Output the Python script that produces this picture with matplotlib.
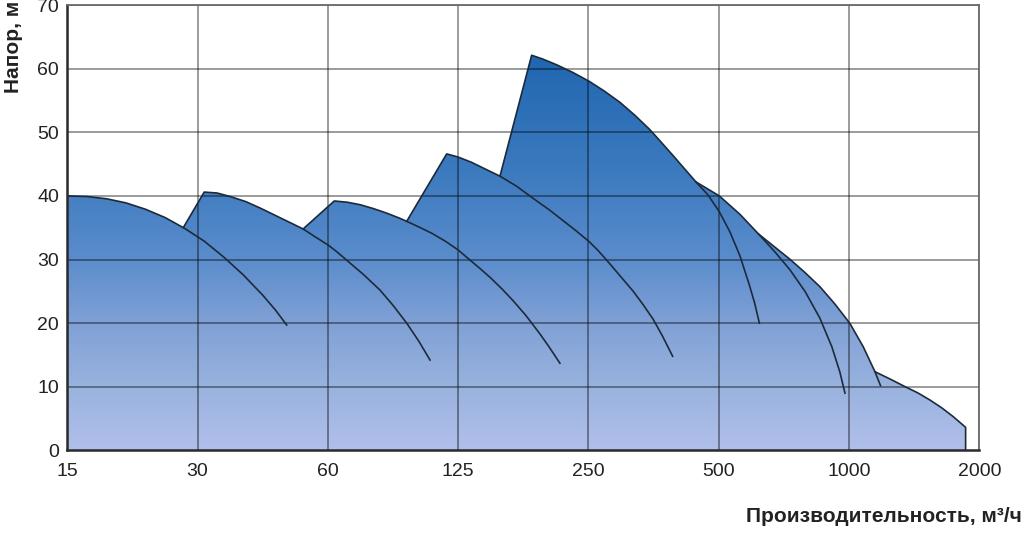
import numpy as np
import matplotlib
matplotlib.use('Agg')
import matplotlib.pyplot as plt
from matplotlib.colors import LinearSegmentedColormap
from matplotlib.patches import Polygon

plt.rcParams['font.family'] = ['Liberation Sans', 'DejaVu Sans']

# flow tick labels (equally spaced on the chart), head in m
flow_ticks = ['15', '30', '60', '125', '250', '500', '1000', '2000']
head_ticks = [0, 10, 20, 30, 40, 50, 60, 70]

# pump curves: x in tick-division units (0 = 15 m3/h ... 7 = 2000 m3/h), head in m
# first point of a curve is the foot of its left edge (or the branch point)
pump1_x = [0.0, 0.15, 0.3, 0.45, 0.6, 0.75, 0.9, 1.05, 1.2, 1.35, 1.5, 1.6, 1.684]
pump1_h = [40.0, 39.9, 39.55, 38.9, 37.9, 36.6, 34.9, 32.9, 30.4, 27.6, 24.4, 22.0, 19.7]

pump2_x = [0.89, 1.051, 1.15, 1.25, 1.37, 1.479, 1.65, 1.73, 1.81, 1.9, 2.0, 2.07,
           2.144, 2.27, 2.40, 2.5, 2.605, 2.7, 2.784]
pump2_h = [35.0, 40.6, 40.45, 39.9, 39.1, 38.1, 36.4, 35.6, 34.8, 33.6, 32.3, 31.2,
           29.9, 27.7, 25.2, 22.8, 20.0, 17.1, 14.2]

pump3_x = [1.81, 2.049, 2.15, 2.25, 2.35, 2.45, 2.55, 2.605, 2.7, 2.8, 2.9, 3.0, 3.08,
           3.167, 3.25, 3.34, 3.423, 3.52, 3.628, 3.7, 3.781]
pump3_h = [34.8, 39.2, 39.0, 38.6, 38.0, 37.3, 36.5, 36.0, 35.1, 34.1, 32.9, 31.5, 30.1,
           28.6, 27.1, 25.3, 23.5, 21.2, 18.3, 16.2, 13.7]

pump4_x = [2.605, 2.912, 3.0, 3.1, 3.2, 3.321, 3.45, 3.576, 3.7, 3.8, 3.9, 4.006, 4.07,
           4.14, 4.24, 4.344, 4.42, 4.497, 4.57, 4.646]
pump4_h = [36.0, 46.6, 46.1, 45.3, 44.3, 43.1, 41.5, 39.6, 37.8, 36.2, 34.6, 32.8, 31.5,
           29.9, 27.5, 25.0, 22.9, 20.6, 17.9, 14.8]

pump5_x = [3.321, 3.564, 3.65, 3.756, 3.88, 4.006, 4.12, 4.242, 4.36, 4.472, 4.56, 4.651,
           4.74, 4.825, 4.917, 5.004, 5.086, 5.163, 5.232, 5.275, 5.312]
pump5_h = [43.1, 62.1, 61.5, 60.6, 59.4, 58.0, 56.5, 54.7, 52.6, 50.4, 48.4, 46.3,
           44.2, 42.2, 40.16, 37.53, 34.34, 30.57, 26.2, 23.2, 20.0]

pump6_x = [4.825, 5.004, 5.163, 5.306, 5.431, 5.546, 5.662, 5.776, 5.868, 5.930, 5.969]
pump6_h = [42.2, 40.0, 37.1, 34.0, 31.2, 28.4, 25.0, 20.8, 16.3, 12.3, 9.0]

pump7_x = [5.306, 5.424, 5.546, 5.661, 5.776, 5.891, 6.006, 6.109, 6.199, 6.242]
pump7_h = [34.0, 32.06, 30.05, 27.97, 25.74, 23.02, 19.98, 16.3, 12.37, 10.17]

pump8_x = [6.199, 6.314, 6.430, 6.529, 6.621, 6.713, 6.800, 6.895, 6.895]
pump8_h = [12.37, 11.23, 10.02, 9.03, 7.92, 6.67, 5.30, 3.63, 0.0]

pumps = [(pump1_x, pump1_h), (pump2_x, pump2_h), (pump3_x, pump3_h),
         (pump4_x, pump4_h), (pump5_x, pump5_h), (pump6_x, pump6_h),
         (pump7_x, pump7_h), (pump8_x, pump8_h)]

grad = LinearSegmentedColormap.from_list('grad', [
    (0.0, '#b0bfea'), (10/62, '#98b2de'), (20/62, '#7fa0d5'),
    (30/62, '#5a8ccc'), (42/62, '#3f7cc0'), (1.0, '#1f66b0')])

fig = plt.figure(figsize=(10.24, 5.33), dpi=100)
ax = fig.add_axes([67.3/1024, 1 - 450.4/533, (979.3 - 67.3)/1024, 445.4/533])

gy = np.linspace(0, 62.5, 300).reshape(-1, 1)
for px, ph in pumps:
    verts = [(px[0], 0)] + list(zip(px, ph)) + [(px[-1], 0)]
    poly = Polygon(verts, closed=True, facecolor='none', edgecolor='none')
    ax.add_patch(poly)
    im = ax.imshow(gy, cmap=grad, origin='lower', aspect='auto',
                   extent=[0, 7, 0, 62.5], vmin=0, vmax=62.5, zorder=1,
                   interpolation='bilinear')
    im.set_clip_path(poly)

ax.set_xlim(0, 7)
ax.set_ylim(0, 70)

# grid
for i in range(1, 8):
    ax.axvline(i, color='black', alpha=0.5, lw=1.1, zorder=2)
for h in head_ticks[1:]:
    ax.axhline(h, color='black', alpha=0.5, lw=1.1, zorder=2)

for px, ph in pumps:
    ax.plot(px, ph, color='#1c2a3a', lw=1.2, zorder=3, solid_joinstyle='round')

ax.set_xticks(range(8))
ax.set_xticklabels(flow_ticks)
ax.set_yticks(head_ticks)
ax.tick_params(length=0, labelsize=14, colors='#222222')
ax.tick_params(axis='x', pad=9)
ax.tick_params(axis='y', pad=6)

for s in ['left', 'bottom']:
    ax.spines[s].set_color('#2a2a2a')
    ax.spines[s].set_linewidth(1.8)
for s in ['top', 'right']:
    ax.spines[s].set_color('#6a6a6a')
    ax.spines[s].set_linewidth(1.3)
for s in ax.spines.values():
    s.set_zorder(4)

fig.text(0.013, 0.998, 'Напор, м', rotation=90, ha='center', va='top',
         fontsize=15, fontweight='bold', color='#222222')
fig.text(0.998, 1 - 517/533, 'Производительность, м³/ч', ha='right', va='center',
         fontsize=15, fontweight='bold', color='#222222')

fig.savefig('out.png', dpi=100)
